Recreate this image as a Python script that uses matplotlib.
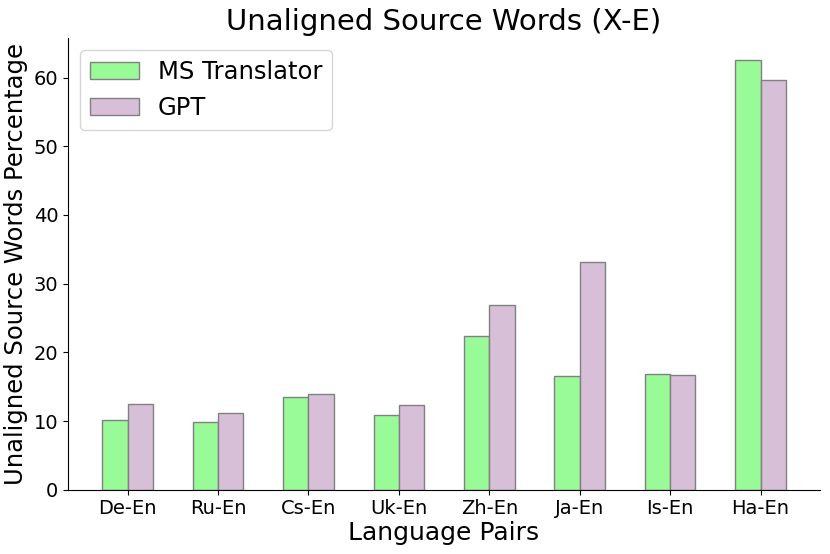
import numpy as np
import matplotlib.pyplot as plt

# Language pairs and unaligned source word percentages
pairs = ['De-En', 'Ru-En', 'Cs-En', 'Uk-En', 'Zh-En', 'Ja-En', 'Is-En', 'Ha-En']
ms_translator = [10.2, 9.8, 13.5, 10.9, 22.4, 16.6, 16.9, 62.6]
gpt = [12.5, 11.1, 14.0, 12.3, 26.9, 33.2, 16.7, 59.7]

x = np.arange(len(pairs))
width = 0.28

fig = plt.figure(figsize=(8.3, 5.54), dpi=100)
ax = fig.add_axes([0.082, 0.116, 0.906, 0.815])

ax.bar(x - width / 2, ms_translator, width, label='MS Translator',
       color='palegreen', edgecolor='gray')
ax.bar(x + width / 2, gpt, width, label='GPT',
       color='thistle', edgecolor='gray')

ax.set_xticks(x)
ax.set_xticklabels(pairs)
ax.tick_params(axis='both', labelsize=14)
ax.set_xlabel('Language Pairs', fontsize=18, labelpad=2)
ax.set_ylabel('Unaligned Source Words Percentage', fontsize=17.5)
ax.set_title('Unaligned Source Words (X-E)', fontsize=21)
ax.spines['top'].set_visible(False)
ax.spines['right'].set_visible(False)
ax.legend(fontsize=17.5, loc='upper left')

plt.savefig('out.png')
